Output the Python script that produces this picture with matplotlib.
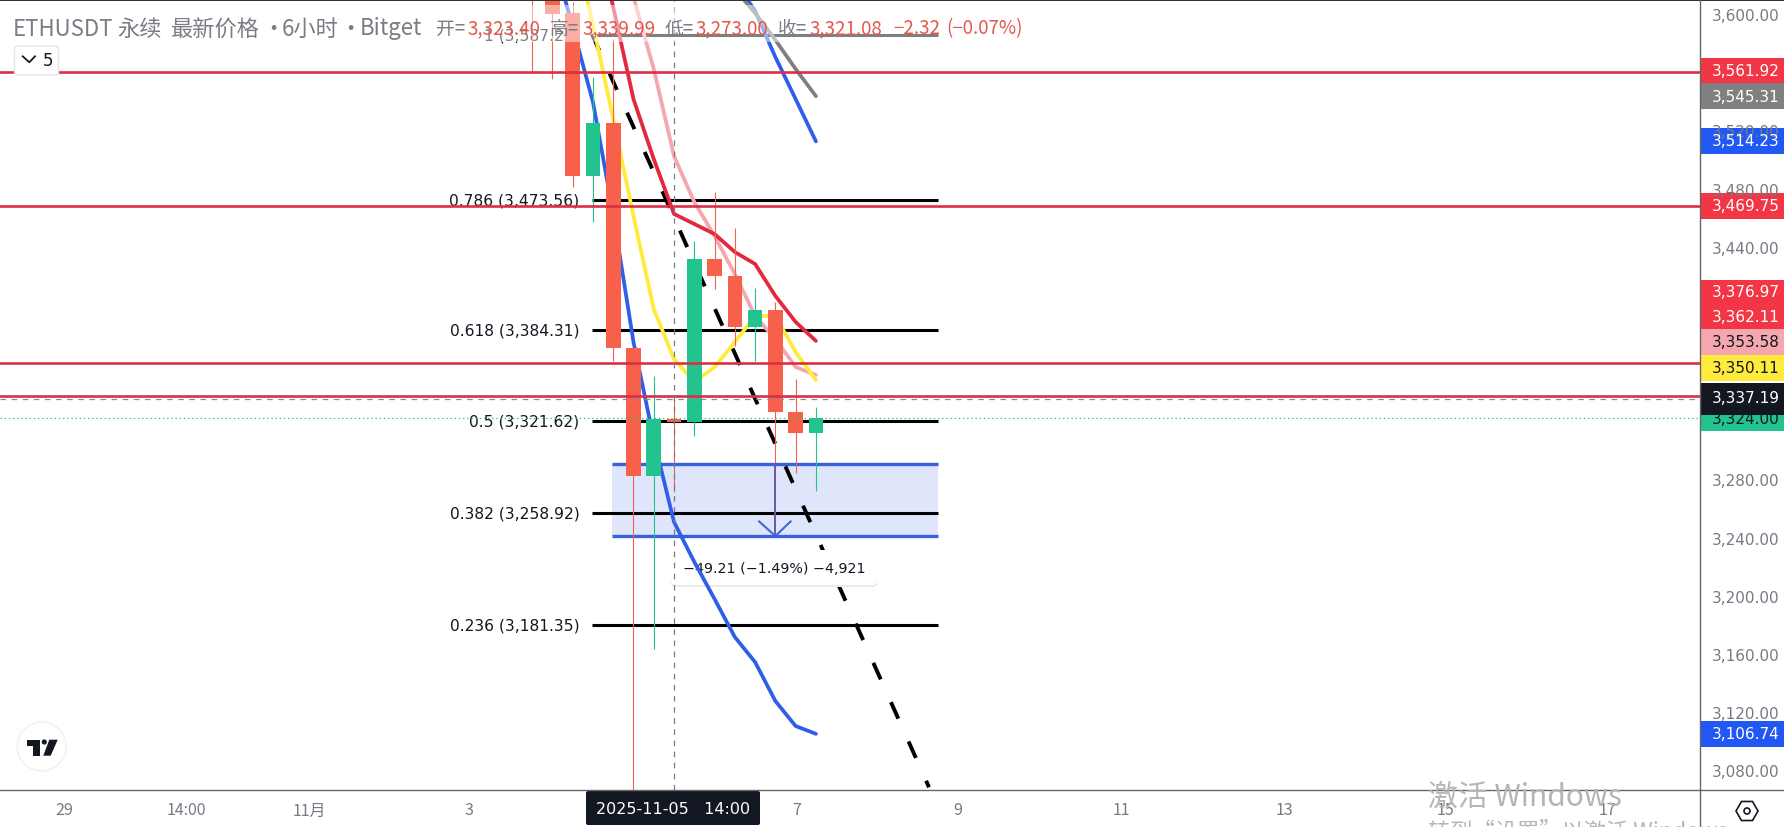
import matplotlib
matplotlib.use("Agg")
import matplotlib.pyplot as plt
from matplotlib.patches import Rectangle, FancyBboxPatch, RegularPolygon, Circle, Polygon

plt.rcParams['font.family'] = ['DejaVu Sans', 'Noto Sans CJK SC']
plt.rcParams['lines.scale_dashes'] = False

W, H = 1784, 828
AX_RIGHT, AX_BOTTOM = 1699.5, 791

# candles, index 0 is the one cut off by the top edge
candle_idx = [-1, 0, 1, 2, 3, 4, 5, 6, 7, 8, 9, 10, 11, 12, 13]
opens = [3680, 3660, 3602.5, 3490.4, 3526.8, 3372.1, 3284.1, 3323.40, 3321.2, 3433.3, 3421.6, 3386.5, 3398.2, 3328.1, 3313.7]
closes = [3660, 3602.0, 3490.4, 3526.8, 3372.1, 3284.1, 3323.3, 3321.08, 3433.3, 3421.6, 3386.5, 3398.2, 3328.1, 3313.7, 3324.0]
highs = [3690, 3670, 3610, 3558.5, 3584.6, 3372.1, 3352.8, 3339.99, 3445.7, 3479.4, 3454.6, 3413.4, 3403.7, 3350.8, 3331.5]
lows = [3562.6, 3557.1, 3482.8, 3458.8, 3363.2, 3050, 3165.1, 3273.00, 3311.6, 3412.7, 3373.5, 3363.2, 3292.3, 3286.2, 3273.8]

# moving averages
blue_fast_idx = list(range(0, 14))
blue_fast = [3643.1, 3592.9, 3541.3, 3464.3, 3376.2, 3309.5, 3252.4, 3225.0, 3199.5, 3173.3, 3156.1, 3129.3, 3112.1, 3106.74]
yellow_idx = list(range(1, 14))
yellow = [3653.4, 3594.9, 3529.6, 3462.9, 3398.9, 3364.5, 3348.7, 3359.0, 3376.2, 3394.1, 3394.1, 3369.3, 3350.11]
red_idx = list(range(2, 14))
red_ma = [3667.1, 3606.6, 3543.3, 3502.1, 3464.3, 3457.4, 3450.5, 3438.1, 3429.9, 3407.9, 3390.0, 3376.97]
pink_idx = list(range(3, 14))
pink = [3660, 3613.5, 3564.0, 3504.1, 3472.5, 3449.1, 3423.0, 3394.1, 3378.3, 3359.0, 3353.58]
gray_idx = list(range(9, 14))
gray_ma = [3619, 3602.5, 3583.9, 3564.0, 3545.31]
blue_slow_idx = list(range(9, 14))
blue_slow = [3624.5, 3603.9, 3572.2, 3543.3, 3514.23]

# drawings
fib_labels = ["0.786", "0.618", "0.5", "0.382", "0.236"]
fib_prices = [3473.56, 3384.31, 3321.62, 3258.92, 3181.35]
fib_top = 3587.20
red_levels = [3561.92, 3469.75, 3362.11, 3339.3]
box_top, box_bottom = 3292.0, 3242.79
trend_idx = [1.95, 18.58]
trend_price = [3588, 3070]

# axis text
price_ticks = [3600, 3440, 3280, 3240, 3200, 3160, 3120, 3080]
hidden_ticks = [3520, 3480]
time_ticks = ["29", "14:00", "11月", "3", "7", "9", "11", "13", "15", "17"]
time_tick_x = [64, 186, 309, 469, 797, 958, 1121, 1284, 1446, 1607]
tags = [("3,561.92", 72, 59, 84, "#f23645", "white"),
        ("3,545.31", 97, 84, 110, "#808080", "white"),
        ("3,514.23", 142, 129, 155, "#2157f3", "white"),
        ("3,469.75", 207, 194, 220, "#f23645", "white"),
        ("3,376.97", 293, 281, 306, "#f23645", "white"),
        ("3,362.11", 318, 306, 330, "#f23645", "white"),
        ("3,353.58", 343, 330, 356, "#f5a6ae", "#131722"),
        ("3,350.11", 369, 356, 382, "#ffeb3b", "#131722"),
        ("3,324.00", 420, 414, 432, "#22c38f", "#131722"),
        ("3,337.19", 399, 384, 416, "#131722", "white"),
        ("3,106.74", 735, 722, 748, "#2157f3", "white")]

# legend text
title_bits = [("ETHUSDT", 13), ("永续", 117), ("最新价格", 171), ("·", 262), ("6小时", 282), ("·", 339), ("Bitget", 360)]
gray_bits = [("开=", 436), ("高=", 550), ("低=", 665), ("收=", 778)]
red_bits = [("3,323.40", 467), ("3,339.99", 582), ("3,273.00", 695), ("3,321.08", 809),
            ("−2.32", 893), ("(−0.07%)", 946)]

UP = "#22c38f"
DOWN = "#f7604a"

fig = plt.figure(figsize=(W / 100, H / 100), dpi=100, facecolor="white")

# chart area, x in candles and y in prices
ax = fig.add_axes([0, 1 - AX_BOTTOM / H, AX_RIGHT / W, AX_BOTTOM / H], zorder=1)
ax.set_xlim(-552.4 / 20.27, (AX_RIGHT - 552.4) / 20.27)
ax.set_ylim(3612.13 - AX_BOTTOM / 1.454, 3612.13)
ax.axis("off")

# whole figure in pixels, for the price scale and everything around it
pix = fig.add_axes([0, 0, 1, 1], zorder=2)
pix.set_xlim(0, W)
pix.set_ylim(H, 0)
pix.axis("off")
pix.patch.set_alpha(0)

# blue box and fib levels
ax.axhspan(box_bottom, box_top, xmin=612 / AX_RIGHT, xmax=938 / AX_RIGHT, color="#dfe6fb", lw=0, zorder=1)
ax.hlines([box_top, box_bottom], 2.94, 19.02, color="#3861e0", lw=2.4, zorder=2)
ax.hlines(fib_prices, 1.95, 19.02, color="black", lw=2.2, zorder=2)
ax.hlines(fib_top, 1.95, 19.02, color="black", lw=2.2, zorder=2)
for name, price in zip(fib_labels, fib_prices):
    y = (3612.13 - price) * 1.454
    ax.text(579.5, y, f"{name} ({price:,.2f})", transform=pix.transData, ha="right", va="center",
            fontsize=11.2, color="#131722", zorder=2)
ax.text(579.5, 36, f"1 ({fib_top:,.2f})", transform=pix.transData, ha="right", va="center",
        fontsize=11.2, color="black", zorder=2)

# trend line
ax.plot(trend_idx, trend_price, color="black", lw=2.8, dashes=(13, 18), dash_capstyle="butt", zorder=3)

# measure tooltip sits under the fast blue line
ax.add_patch(FancyBboxPatch((670, 553), 208, 35, boxstyle="round,pad=0,rounding_size=6", transform=pix.transData,
                            fc="#ebebeb", ec="none", zorder=3.4))
ax.add_patch(FancyBboxPatch((670, 551), 208, 35, boxstyle="round,pad=0,rounding_size=6", transform=pix.transData,
                            fc="white", ec="none", zorder=3.5))
ax.text(774, 569, "−49.21 (−1.49%) −4,921", transform=pix.transData, ha="center", va="center",
        fontsize=10.3, color="#131722", zorder=3.6)

# moving averages
ax.plot(blue_fast_idx, blue_fast, color="#2f5fe8", lw=2.7, zorder=4, solid_capstyle="round")
ax.plot(blue_slow_idx, blue_slow, color="#2f5fe8", lw=2.7, zorder=4, solid_capstyle="round")
ax.plot(gray_idx, gray_ma, color="#808080", lw=2.7, zorder=4, solid_capstyle="round")
ax.plot(pink_idx, pink, color="#f5a6ae", lw=2.7, zorder=4, solid_capstyle="round")
ax.plot(yellow_idx, yellow, color="#ffeb3b", lw=2.7, zorder=4.2, solid_capstyle="round")
ax.plot(red_idx, red_ma, color="#e2293f", lw=2.7, zorder=4.4, solid_capstyle="round")

# candles
for i, o, c, hi, lo in zip(candle_idx, opens, closes, highs, lows):
    col = UP if c >= o else DOWN
    ax.vlines(i, lo, hi, color=col, lw=0.8, zorder=5)
    ax.bar(i, abs(c - o), bottom=min(o, c), width=0.72, color=col, lw=0, zorder=5)

# red levels and price lines
ax.axhline(closes[-1], color="#22c38f", lw=0.8, ls=(0, (1, 2)), zorder=5)
for level in red_levels:
    ax.axhline(level, color="#dc2f45", lw=1.9, zorder=6)
ax.axhline(3337.19, color="#8a8d96", lw=0.9, ls=(0, (4, 4)), zorder=5.5)
ax.axvline(6, color="#787b86", lw=0.9, ls=(0, (4, 4)), zorder=6)

# measure arrow
ax.plot([11, 11], [box_top, box_bottom], color="#6a58a8", lw=1.4, zorder=6)
ax.plot([10.2, 11, 11.75], [box_bottom + 10, box_bottom, box_bottom + 10], color="#3f63dc", lw=1.5, zorder=6)

# legend strip, the chart shows through it
ax.add_patch(Rectangle((0, 6), 1020, 37, transform=pix.transData, fc="white", alpha=0.5, lw=0, zorder=7))

cjk = ['Noto Sans CJK SC', 'DejaVu Sans']
for txt, x in title_bits:
    pix.text(x, 29, txt, family=cjk, fontsize=16, color="#7a7d85", va="center")
for txt, x in gray_bits:
    pix.text(x, 29, txt, family=cjk, fontsize=13.5, color="#7a7d85", va="center")
for txt, x in red_bits:
    pix.text(x, 29, txt, family=cjk, fontsize=13.5, color="#e4574e", va="center")

# interval button
pix.add_patch(FancyBboxPatch((14.5, 47), 44, 29, boxstyle="round,pad=0,rounding_size=3", fc="white", ec="#e4e5e8", lw=1))
pix.plot([22.7, 29.3, 35], [57.3, 63.3, 57.3], color="#131722", lw=1.3)
pix.text(47.7, 61, "5", fontsize=12, color="#131722", ha="center", va="center")

# axis lines
pix.plot([AX_RIGHT, AX_RIGHT], [0, H], color="#666666", lw=1)
pix.plot([0, W], [AX_BOTTOM, AX_BOTTOM], color="#666666", lw=1)
pix.add_patch(Rectangle((0, 0), W, 1.5, fc="#333333", lw=0))

# price scale
for p in price_ticks + hidden_ticks:
    pix.text(1711.5, (3612.13 - p) * 1.454 - 1, f"{p:,.2f}", fontsize=11, color="#777a84", va="center")
for txt, y, top, bot, bg, fg in tags:
    pix.add_patch(Rectangle((AX_RIGHT + 0.5, top), W - AX_RIGHT, bot - top, fc=bg, lw=0))
    pix.text(1711.5, y, txt, fontsize=11, color=fg, va="center")

# time scale
for txt, x in zip(time_ticks, time_tick_x):
    pix.text(x, 811, txt, family=cjk, fontsize=11.5, color="#777a84", ha="center", va="center")
pix.add_patch(FancyBboxPatch((586, 792), 174, 34, boxstyle="round,pad=0,rounding_size=2", fc="#131722", lw=0))
pix.text(673, 810, "2025-11-05   14:00", fontsize=11.5, color="white", ha="center", va="center")

# settings icon
pix.add_patch(RegularPolygon((1747, 812), 6, radius=11, orientation=1.5708, fc="none", ec="#131722", lw=1.2))
pix.add_patch(Circle((1747, 812), 3, fc="none", ec="#131722", lw=1.2))

# logo
pix.add_patch(Circle((41.7, 747.5), 24.5, fc="white", ec="#f0f0f3", lw=1))
pix.add_patch(Polygon([(26.7, 740.7), (40, 740.7), (40, 756.7), (33.3, 756.7), (33.3, 747), (26.7, 747)],
                      fc="#131722", lw=0))
pix.add_patch(Polygon([(49.3, 740.7), (57.7, 740.7), (50.7, 756.7), (43.3, 756.7)], fc="#131722", lw=0))
pix.add_patch(Circle((44.3, 743), 2.6, fc="#131722", lw=0))

# windows watermark
pix.text(1428, 797, "激活 Windows", family=cjk, fontsize=21.5, color="#b5b5b5", va="center")
pix.text(1428, 832, "转到“设置”以激活 Windows。", family=cjk, fontsize=16, color="#b5b5b5", va="center", clip_on=True)

fig.savefig("out.png", dpi=100)
